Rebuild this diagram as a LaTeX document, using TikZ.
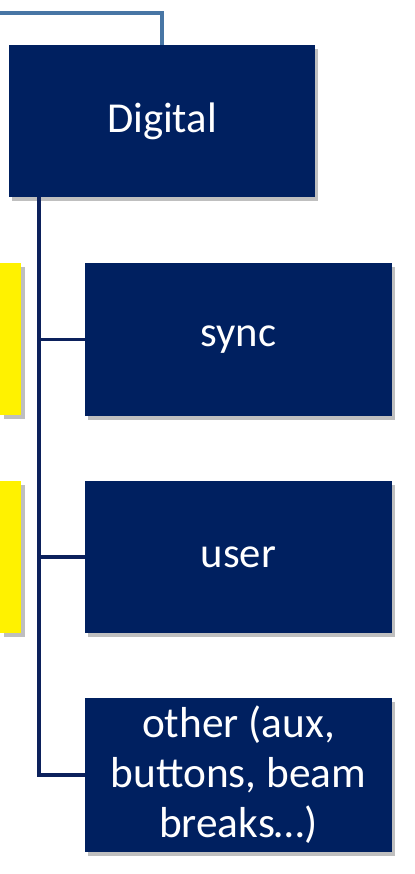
\documentclass[tikz,border=0pt]{standalone}
\usepackage{fontspec}
\setmainfont{Carlito}
\usetikzlibrary{shadows}
\definecolor{navy}{RGB}{0,32,96}
\definecolor{topline}{RGB}{72,118,165}
\definecolor{conn}{RGB}{12,33,92}
\newcommand{\lowtext}[1]{\raisebox{-2.2pt}{#1}}
\tikzset{
  shad/.style={drop shadow={opacity=0.5,shadow xshift=2.5pt,shadow yshift=-3pt}},
  box/.style={shad,fill=navy,draw=none,text=white,align=center,inner sep=0pt},
  ybox/.style={shad,fill=yellow,draw=none,inner sep=0pt},
  link/.style={draw=conn,line width=2.8pt},
}
\begin{document}
\begin{tikzpicture}[x=0.75pt,y=-0.75pt]
\useasboundingbox (0,0) rectangle (414,874);
\coordinate (L) at (0,13);
\coordinate (T) at (162,13);
\node[box,minimum width=306*0.75pt,minimum height=152*0.75pt,font=\fontsize{32}{38}\selectfont] (dig) at (162,121) {\lowtext{Digital}};
\draw[draw=topline,line width=2.6pt] (L) -- (T) -- (dig.north);
\node[ybox,minimum width=21*0.75pt,minimum height=152*0.75pt,anchor=north west] (y1) at (0,263) {};
\node[ybox,minimum width=21*0.75pt,minimum height=152*0.75pt,anchor=north west] (y2) at (0,481) {};
\node[box,minimum width=307*0.75pt,minimum height=153*0.75pt,font=\fontsize{32}{38}\selectfont] (sync) at (238.5,339.5) {\lowtext{sync}};
\node[box,minimum width=307*0.75pt,minimum height=152*0.75pt,font=\fontsize{32}{38}\selectfont] (user) at (238.5,557) {\lowtext{user}};
\node[box,minimum width=307*0.75pt,minimum height=154*0.75pt,font=\fontsize{32.5}{37.5}\selectfont] (other) at (238.5,775) {other (aux,\\buttons, beam\\breaks…)};
\coordinate (V) at (39,197);
\draw[link] (V) |- (sync.west);
\draw[link] (V) |- (user.west);
\draw[link] (V) |- (other.west);
\end{tikzpicture}
\end{document}
